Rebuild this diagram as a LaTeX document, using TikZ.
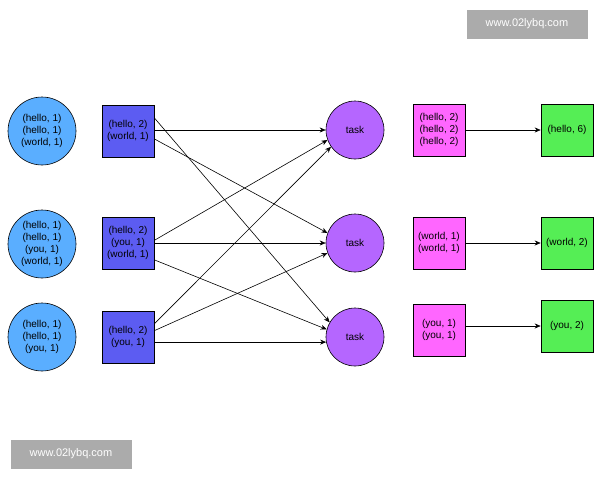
\documentclass[tikz,border=0pt]{standalone}
\usepackage{fontspec}
\setmainfont{Liberation Sans}
\usetikzlibrary{calc,arrows.meta}
\definecolor{cb}{HTML}{5AAEFF}
\definecolor{sb}{HTML}{5C5CF2}
\definecolor{pu}{HTML}{B566FF}
\definecolor{pk}{HTML}{FF66FF}
\definecolor{gr}{HTML}{55EE55}
\begin{document}
\begin{tikzpicture}[x=1pt,y=-1pt,
  every node/.style={font=\fontsize{10}{12}\selectfont,align=center,draw=black,line width=0.6pt},
  circ/.style={circle,fill=cb,minimum size=68pt,inner sep=0pt},
  bsq/.style={rectangle,fill=sb,minimum size=52pt,inner sep=0pt},
  task/.style={circle,fill=pu,minimum size=58pt,inner sep=0pt},
  psq/.style={rectangle,fill=pk,minimum size=52pt,inner sep=0pt},
  gsq/.style={rectangle,fill=gr,minimum size=52pt,inner sep=0pt},
  wm/.style={draw=none,fill=black!33,text=white,font=\fontsize{11}{13}\selectfont,minimum width=121pt,minimum height=29pt},
  arr/.style={-{Stealth[length=6pt,width=5pt]},line width=0.6pt}]
\useasboundingbox (0,0) rectangle (600,480);
\fill[white] (0,0) rectangle (600,480);
\node[wm] (w1) at (527,24) {www.02lybq.com};
\node[wm] (w2) at (71,454) {www.02lybq.com};
\node[circ] (c1) at (42,131) {(hello, 1)\\(hello, 1)\\(world, 1)};
\node[circ] (c2) at (42,244) {(hello, 1)\\(hello, 1)\\(you, 1)\\(world, 1)};
\node[circ] (c3) at (42,337) {(hello, 1)\\(hello, 1)\\(you, 1)};
\node[bsq] (b1) at (128,131) {(hello, 2)\\(world, 1)};
\node[bsq] (b2) at (128,243) {(hello, 2)\\(you, 1)\\(world, 1)};
\node[bsq] (b3) at (128,337) {(hello, 2)\\(you, 1)};
\node[task] (t1) at (355,130) {task};
\node[task] (t2) at (355,243) {task};
\node[task] (t3) at (355,337) {task};
\node[psq] (p1) at (439,130) {(hello, 2)\\(hello, 2)\\(hello, 2)};
\node[psq] (p2) at (439,243) {(world, 1)\\(world, 1)};
\node[psq] (p3) at (439,330) {(you, 1)\\(you, 1)};
\node[gsq] (g1) at (567,130) {(hello, 6)};
\node[gsq] (g2) at (567,243) {(world, 2)};
\node[gsq] (g3) at (567,326) {(you, 2)};
% sq1
\draw[arr] (b1.east |- t1) -- (t1.west);
\draw[arr] ($(b1.north east)!0.25!(b1.south east)$) -- (t3.150);
\draw[arr] ($(b1.north east)!0.65!(b1.south east)$) -- (t2.160);
% sq2
\draw[arr] ($(b2.north east)!0.45!(b2.south east)$) -- (t1.200);
\draw[arr] (b2.east |- t2) -- (t2.west);
\draw[arr] ($(b2.north east)!0.82!(b2.south east)$) -- (t3.165);
% sq3
\draw[arr] ($(b3.north east)!0.25!(b3.south east)$) -- (t1.215);
\draw[arr] ($(b3.north east)!0.38!(b3.south east)$) -- (t2.200);
\draw[arr] (b3.east |- t3.190) -- (t3.190);
% pink to green
\draw[arr] (p1.east) -- (g1.west);
\draw[arr] (p2.east) -- (g2.west);
\draw[arr] (p3.east |- g3) -- (g3.west);
\end{tikzpicture}
\end{document}
